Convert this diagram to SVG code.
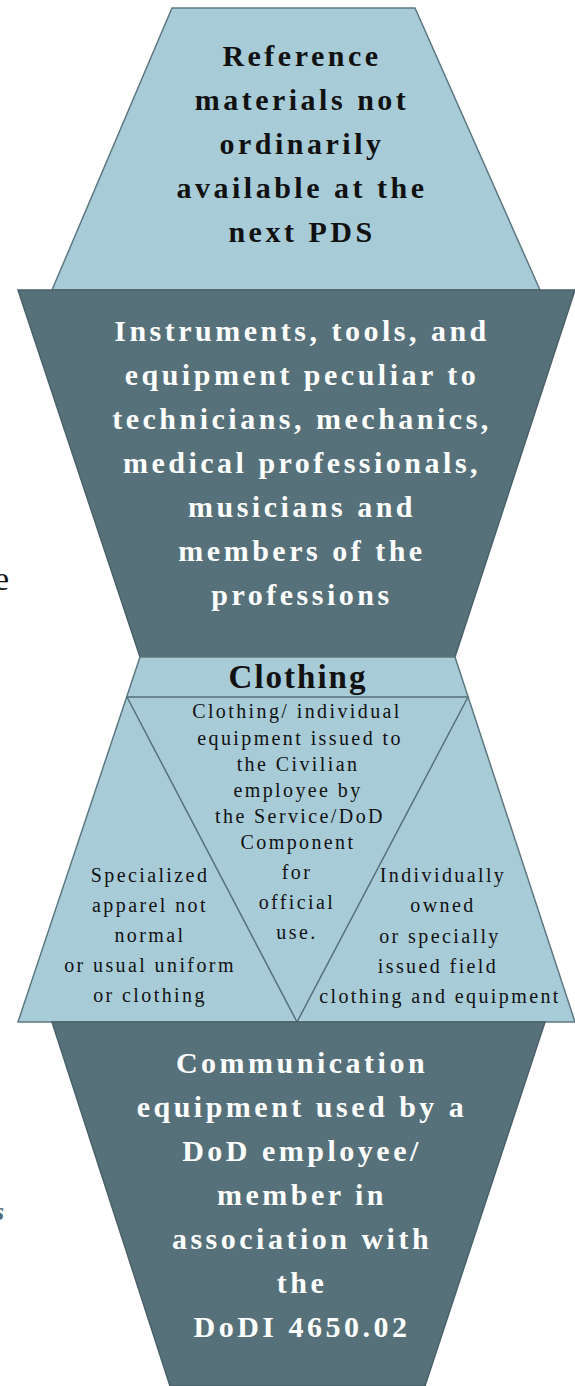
<svg xmlns="http://www.w3.org/2000/svg" width="575" height="1386" viewBox="0 0 575 1386">
<style>
.light{fill:#a8cbd8;stroke:#5d7880;stroke-width:1.5}
.dark{fill:#56717a;stroke:#4a6169;stroke-width:1.5}
.line{fill:none;stroke:#56717a;stroke-width:1.5}
.bb{font-family:"Liberation Serif",serif;font-weight:bold;font-size:30px;letter-spacing:3.5px;text-anchor:middle;fill:#111}
.bw{font-family:"Liberation Serif",serif;font-weight:bold;font-size:30px;letter-spacing:3.5px;text-anchor:middle;fill:#fff}
.sm{font-family:"Liberation Serif",serif;font-size:20px;letter-spacing:2.4px;text-anchor:middle;fill:#111}
</style>
<rect width="575" height="1386" fill="#fff"/>
<text x="-6" y="590" font-family="Liberation Serif,serif" font-size="34" fill="#111">e</text>
<text x="-6" y="1220" font-family="Liberation Serif,serif" font-style="italic" font-weight="bold" font-size="26" fill="#4d6a74">s</text>
<g id="top">
<polygon class="light" points="172,8 415,8 540,290 52,290"/>
<text class="bb" y="66"><tspan x="302">Reference</tspan><tspan x="302" dy="44">materials not</tspan><tspan x="302" dy="44">ordinarily</tspan><tspan x="302" dy="44">available at the</tspan><tspan x="302" dy="44">next PDS</tspan></text>
</g>
<g id="instruments">
<polygon class="dark" points="18,290 575,290 455,657 140,657"/>
<text class="bw" y="341"><tspan x="302">Instruments, tools, and</tspan><tspan x="302" dy="44">equipment peculiar to</tspan><tspan x="302" dy="44">technicians, mechanics,</tspan><tspan x="302" dy="44">medical professionals,</tspan><tspan x="302" dy="44">musicians and</tspan><tspan x="302" dy="44">members of the</tspan><tspan x="302" dy="44">professions</tspan></text>
</g>
<g id="clothing">
<polygon class="light" points="140,657 455,657 575,1022 18,1022"/>
<line class="line" x1="127" y1="697" x2="468" y2="697"/>
<text x="298" y="688" font-family="Liberation Serif,serif" font-weight="bold" font-size="33" letter-spacing="2" text-anchor="middle" fill="#111">Clothing</text>
</g>
<g id="connectors">
<polyline class="line" points="127,697 297,1022 468,697"/>
</g>
<g id="clothing-issued">
<text class="sm" y="718"><tspan x="297">Clothing/ individual</tspan><tspan x="300" dy="26.5">equipment issued to</tspan><tspan x="298" dy="26">the Civilian</tspan><tspan x="298" dy="26">employee by</tspan><tspan x="300" dy="26">the Service/DoD</tspan><tspan x="298" dy="26">Component</tspan><tspan x="297" dy="30">for</tspan><tspan x="297" dy="30">official</tspan><tspan x="297" dy="30">use.</tspan></text>
</g>
<g id="specialized">
<text class="sm" y="882"><tspan x="150">Specialized</tspan><tspan x="150" dy="30">apparel not</tspan><tspan x="150" dy="30">normal</tspan><tspan x="150" dy="30">or usual uniform</tspan><tspan x="150" dy="30">or clothing</tspan></text>
</g>
<g id="individually">
<text class="sm" y="882"><tspan x="443">Individually</tspan><tspan x="443" dy="30">owned</tspan><tspan x="440" dy="31">or specially</tspan><tspan x="438" dy="30">issued field</tspan><tspan x="440" dy="30">clothing and equipment</tspan></text>
</g>
<g id="communication">
<polygon class="dark" points="52,1022 545,1022 425,1386 170,1386"/>
<text class="bw" y="1073"><tspan x="302">Communication</tspan><tspan x="302" dy="44">equipment used by a</tspan><tspan x="302" dy="44">DoD employee/</tspan><tspan x="302" dy="44">member in</tspan><tspan x="302" dy="44">association with</tspan><tspan x="302" dy="44">the</tspan><tspan x="302" dy="44">DoDI 4650.02</tspan></text>
</g>
</svg>
